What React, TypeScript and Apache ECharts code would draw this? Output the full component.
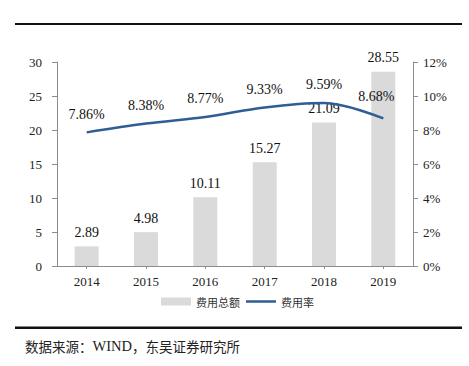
import React, { useEffect, useRef } from "react";
import * as echarts from "echarts";

const categories = ["2014", "2015", "2016", "2017", "2018", "2019"];
const totalExpense = [2.89, 4.98, 10.11, 15.27, 21.09, 28.55];
const expenseRate = [7.86, 8.38, 8.77, 9.33, 9.59, 8.68];
const barName = "费用总额";
const lineName = "费用率";
const sourcePrefix = "数据来源：";
const sourceName = "WIND";
const sourceSuffix = "，东吴证券研究所";

const SERIF = "'Liberation Serif', 'Times New Roman', serif";
const CJK = "'Noto Sans CJK SC', sans-serif";

export default function App() {
  const ref = useRef<HTMLDivElement>(null);
  useEffect(() => {
    if (!ref.current) return;
    const chart = echarts.init(ref.current, null, { renderer: "svg" });
    chart.setOption({
      animation: false,
      backgroundColor: "#ffffff",
      grid: { left: 57, right: 56, top: 62, bottom: 100 },
      legend: {
        left: 156,
        top: 291,
        itemGap: 6,
        itemWidth: 30,
        itemHeight: 8,
        textStyle: { fontFamily: CJK, fontSize: 11, color: "#333" },
        data: [
          { name: barName, icon: "rect" },
          { name: lineName, icon: "path://M0,0 L30,0 L30,2.5 L0,2.5 Z" },
        ],
      },
      xAxis: {
        type: "category",
        data: categories,
        axisLine: { lineStyle: { color: "#8c8c8c", width: 1 } },
        axisTick: { show: true, alignWithLabel: true, length: 3, lineStyle: { color: "#8c8c8c" } },
        axisLabel: { fontFamily: SERIF, fontSize: 13, color: "#222", margin: 9 },
      },
      yAxis: [
        {
          type: "value",
          min: 0,
          max: 30,
          interval: 5,
          splitLine: { show: false },
          axisLine: { show: true, lineStyle: { color: "#8c8c8c" } },
          axisTick: { show: true, length: 5, lineStyle: { color: "#8c8c8c" } },
          axisLabel: { fontFamily: SERIF, fontSize: 13, color: "#222", margin: 15 },
        },
        {
          type: "value",
          min: 0,
          max: 12,
          interval: 2,
          position: "right",
          splitLine: { show: false },
          axisLine: { show: true, lineStyle: { color: "#8c8c8c" } },
          axisTick: { show: true, length: 5, lineStyle: { color: "#8c8c8c" } },
          axisLabel: {
            fontFamily: SERIF,
            fontSize: 13,
            color: "#222",
            margin: 10,
            formatter: (v: number) => v + "%",
          },
        },
      ],
      series: [
        {
          name: barName,
          type: "bar",
          data: totalExpense,
          barWidth: 24,
          itemStyle: { color: "#dadada" },
          label: {
            show: true,
            position: "top",
            distance: 7,
            fontFamily: SERIF,
            fontSize: 14,
            color: "#111",
            formatter: (p: any) => p.value.toFixed(2),
          },
        },
        {
          name: lineName,
          type: "line",
          yAxisIndex: 1,
          data: expenseRate.map((v, i) =>
            i === 5 ? { value: v, label: { offset: [-7, -4] } } : v
          ),
          smooth: 0.35,
          symbol: "circle",
          symbolSize: 0,
          showSymbol: true,
          lineStyle: { color: "#2f5d96", width: 2.5 },
          itemStyle: { color: "#2f5d96" },
          label: {
            show: true,
            position: "top",
            distance: 11,
            fontFamily: SERIF,
            fontSize: 14,
            color: "#111",
            formatter: (p: any) => Number(p.value).toFixed(2) + "%",
          },
        },
      ],
      graphic: [
        {
          type: "rect",
          shape: { x: 15, y: 23, width: 447, height: 2 },
          style: { fill: "#111" },
        },
        {
          type: "rect",
          shape: { x: 15, y: 326.5, width: 447, height: 2.5 },
          style: { fill: "#111" },
        },
        {
          type: "text",
          x: 25,
          y: 346,
          style: {
            text: "{c|" + sourcePrefix + "}{w|" + sourceName + "}{c|" + sourceSuffix + "}",
            verticalAlign: "middle",
            rich: {
              c: { fontFamily: CJK, fontSize: 13.5, fill: "#222" },
              w: { fontFamily: SERIF, fontSize: 14.5, fill: "#222" },
            },
          },
        },
      ],
    });
    return () => chart.dispose();
  }, []);
  return <div ref={ref} style={{ width: 469, height: 366, position: "absolute", left: 0, top: 0 }} />;
}
